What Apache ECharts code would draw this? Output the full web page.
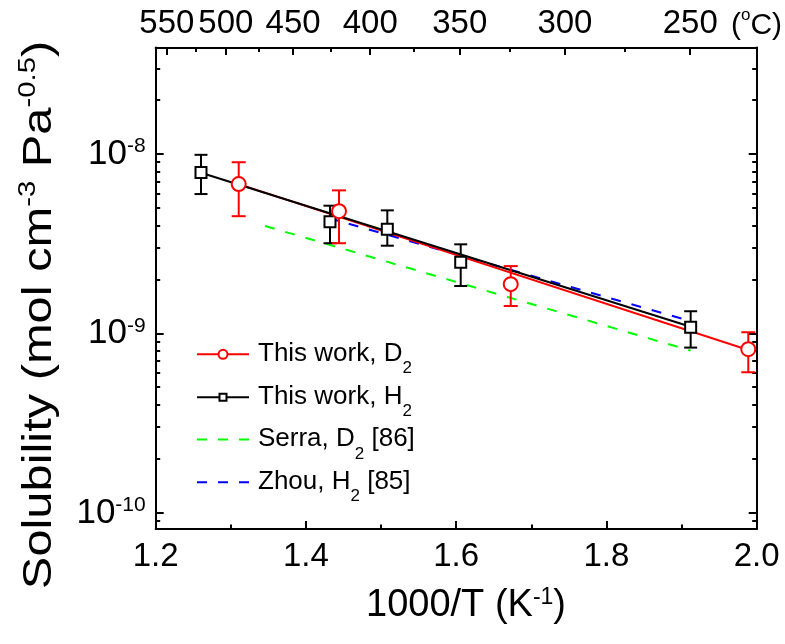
<!DOCTYPE html>
<html>
<head>
<meta charset="utf-8">
<script src="https://cdn.jsdelivr.net/npm/echarts@6/dist/echarts.min.js"></script>
<style>
  html, body { margin: 0; padding: 0; background: #fff; }
  #chart { width: 785px; height: 644px; }
</style>
</head>
<body>
<div id="chart"></div>
<script>
// Measured hydrogen-isotope solubility vs inverse temperature.
// x: 1000/T (K^-1), y: solubility (mol cm^-3 Pa^-0.5)

// This work, D2 (circles) with error bar bounds
const d2InvT  = [1.3105, 1.444, 1.6726, 1.9888];
const d2Sol   = [6.8e-9, 4.8e-9, 1.88e-9, 8.15e-10];
const d2Low   = [4.5e-9, 3.18e-9, 1.42e-9, 6.06e-10];
const d2High  = [9.0e-9, 6.27e-9, 2.37e-9, 1.013e-9];

// This work, H2 (squares) with error bar bounds
const h2InvT  = [1.2603, 1.432, 1.5083, 1.606, 1.9121];
const h2Sol   = [7.9e-9, 4.19e-9, 3.8e-9, 2.49e-9, 1.08e-9];
const h2Low   = [5.98e-9, 3.18e-9, 3.08e-9, 1.835e-9, 8.32e-10];
const h2High  = [9.9e-9, 5.15e-9, 4.85e-9, 3.135e-9, 1.327e-9];

// Arrhenius fit lines (end points)
const d2FitInvT = [1.3105, 1.9888];
const d2FitSol  = [6.79e-9, 8.07e-10];
const h2FitInvT = [1.2603, 1.9121];
const h2FitSol  = [7.86e-9, 1.088e-9];

// Literature correlations
const serraInvT = [1.3455, 1.9121];
const serraSol  = [3.97e-9, 8.0e-10];
const zhouInvT  = [1.43, 1.907];
const zhouSol   = [4.40e-9, 1.186e-9];

// Axis ticks
const xTickValues      = [1.2, 1.4, 1.6, 1.8, 2.0];
const xMinorTickValues = [1.3, 1.5, 1.7, 1.9];
const tempMajorC = [550, 500, 450, 400, 350, 300, 250];
const tempMinorC = [525, 475, 425, 375, 325, 275];
const yMajorTicks = [1e-10, 1e-9, 1e-8];
const yMin = 8.09e-11, yMax = 3.93e-8;

const legendNames = [
  ['This work, D', '2', ''],
  ['This work, H', '2', ''],
  ['Serra, D', '2', ' [86]'],
  ['Zhou, H', '2', ' [85]']
];

const FONT = "'Liberation Sans', Arial, sans-serif";
const BLACK = '#000000', RED = '#ff0000', GREEN = '#00ff00', BLUE = '#0000ff';

const yMinorTicks = [];
for (let e = -11; e <= -8; e++) {
  for (let m = 2; m <= 9; m++) yMinorTicks.push(m * Math.pow(10, e));
}
const invT = c => 1000 / (c + 273.15);

const pairs = (xs, ys) => xs.map((x, i) => [x, ys[i]]);
const bars = (xs, lo, hi) => xs.map((x, i) => [x, lo[i], hi[i]]);

function errorBars(color, capHalf) {
  return function (params, api) {
    const x = api.value(0);
    const lo = api.coord([x, api.value(1)]);
    const hi = api.coord([x, api.value(2)]);
    const style = { stroke: color, lineWidth: 2, fill: null };
    return {
      type: 'group',
      children: [
        { type: 'line', shape: { x1: lo[0], y1: lo[1], x2: hi[0], y2: hi[1] }, style },
        { type: 'line', shape: { x1: lo[0] - capHalf, y1: lo[1], x2: lo[0] + capHalf, y2: lo[1] }, style },
        { type: 'line', shape: { x1: hi[0] - capHalf, y1: hi[1], x2: hi[0] + capHalf, y2: hi[1] }, style }
      ]
    };
  };
}

const axisLine = { show: true, onZero: false, lineStyle: { color: BLACK, width: 2 } };
const noLine = { show: false };
const tickStyle = { color: BLACK, width: 2 };

function xAxisDef(position, ticks, len, labels) {
  return {
    type: 'value', position, min: 1.2, max: 2.0,
    axisLine: labels ? axisLine : noLine,
    axisTick: { show: true, inside: true, length: len, lineStyle: tickStyle, customValues: ticks },
    axisLabel: labels || { show: false },
    splitLine: { show: false }
  };
}
function yAxisDef(position, ticks, len, withLine, labels) {
  return {
    type: 'log', logBase: 10, position, min: yMin, max: yMax,
    axisLine: withLine ? axisLine : noLine,
    axisTick: { show: true, inside: true, length: len, lineStyle: tickStyle, customValues: ticks },
    axisLabel: labels || { show: false },
    splitLine: { show: false }
  };
}

const tickFont = { fontFamily: FONT, fontSize: 33, color: BLACK, lineHeight: 33 };

const option = {
  animation: false,
  backgroundColor: '#fff',
  grid: { left: 155.7, right: 28.3, top: 47.5, bottom: 115 },
  xAxis: [
    xAxisDef('bottom', xTickValues, 8, Object.assign({
      customValues: xTickValues, margin: 11, formatter: v => v.toFixed(1)
    }, tickFont)),
    xAxisDef('bottom', xMinorTickValues, 4.5, null),
    xAxisDef('top', tempMajorC.map(invT), 7.5, Object.assign({
      customValues: tempMajorC.map(invT), margin: 7,
      formatter: v => String(Math.round(1000 / v - 273.15))
    }, tickFont)),
    xAxisDef('top', tempMinorC.map(invT), 4.5, null)
  ],
  yAxis: [
    yAxisDef('left', yMajorTicks, 8, true, {
      customValues: yMajorTicks, margin: 10,
      formatter: v => '{a|10}{b|' + Math.round(Math.log10(v)) + '}',
      rich: {
        a: { fontFamily: FONT, fontSize: 35, lineHeight: 36, verticalAlign: 'bottom', color: BLACK },
        b: { fontFamily: FONT, fontSize: 21, lineHeight: 22, verticalAlign: 'top', padding: [0, 0, 22, 0], color: BLACK }
      }
    }),
    yAxisDef('left', yMinorTicks, 4.5, false, null),
    yAxisDef('right', yMajorTicks, 8, true, null),
    yAxisDef('right', yMinorTicks, 4.5, false, null)
  ],
  series: [
    {
      name: 'Serra, D2 [86]', type: 'line', xAxisIndex: 0, yAxisIndex: 0,
      data: pairs(serraInvT, serraSol), symbol: 'none',
      lineStyle: { color: GREEN, width: 2, type: [10, 11] }, z: 2
    },
    {
      name: 'Zhou, H2 [85]', type: 'line', xAxisIndex: 0, yAxisIndex: 0,
      data: pairs(zhouInvT, zhouSol), symbol: 'none',
      lineStyle: { color: BLUE, width: 2, type: [10, 11] }, z: 2
    },
    {
      name: 'This work, D2 fit', type: 'line', xAxisIndex: 0, yAxisIndex: 0,
      data: pairs(d2FitInvT, d2FitSol), symbol: 'none',
      lineStyle: { color: RED, width: 2 }, z: 3
    },
    {
      name: 'This work, H2 fit', type: 'line', xAxisIndex: 0, yAxisIndex: 0,
      data: pairs(h2FitInvT, h2FitSol), symbol: 'none',
      lineStyle: { color: BLACK, width: 2 }, z: 4
    },
    {
      name: 'H2 error', type: 'custom', xAxisIndex: 0, yAxisIndex: 0,
      data: bars(h2InvT, h2Low, h2High), encode: { x: 0, y: [1, 2] },
      renderItem: errorBars(BLACK, 6.5), z: 5
    },
    {
      name: 'D2 error', type: 'custom', xAxisIndex: 0, yAxisIndex: 0,
      data: bars(d2InvT, d2Low, d2High), encode: { x: 0, y: [1, 2] },
      renderItem: errorBars(RED, 7), z: 6
    },
    {
      name: 'This work, H2', type: 'scatter', xAxisIndex: 0, yAxisIndex: 0,
      data: pairs(h2InvT, h2Sol), symbol: 'rect', symbolSize: 11,
      itemStyle: { color: '#fff', borderColor: BLACK, borderWidth: 2, opacity: 1 }, z: 7
    },
    {
      name: 'This work, D2', type: 'scatter', xAxisIndex: 0, yAxisIndex: 0,
      data: pairs(d2InvT, d2Sol), symbol: 'circle', symbolSize: 14,
      itemStyle: { color: '#fff', borderColor: RED, borderWidth: 2, opacity: 1 }, z: 8
    }
  ],
  graphic: []
};

// Legend block
const legendRows = [354.3, 397.3, 439.5, 482.3];
const legendColors = [RED, BLACK, GREEN, BLUE];
const legendDash = [null, null, [10, 11], [10, 11]];
const legendRich = {
  a: { fontFamily: FONT, fontSize: 26, lineHeight: 30, verticalAlign: 'top', fill: BLACK },
  s: { fontFamily: FONT, fontSize: 17, lineHeight: 17, verticalAlign: 'top', padding: [19.5, 0, 0, 0], fill: BLACK }
};
legendRows.forEach((y, i) => {
  option.graphic.push({
    type: 'line', shape: { x1: 197, y1: y, x2: 249, y2: y },
    style: { stroke: legendColors[i], lineWidth: 2, lineDash: legendDash[i] }, z: 10
  });
  if (i === 0) {
    option.graphic.push({
      type: 'circle', shape: { cx: 223, cy: y, r: 4.5 },
      style: { fill: '#fff', stroke: RED, lineWidth: 2 }, z: 11
    });
  } else if (i === 1) {
    option.graphic.push({
      type: 'rect', shape: { x: 219.5, y: y - 3.5, width: 7, height: 7 },
      style: { fill: '#fff', stroke: BLACK, lineWidth: 2 }, z: 11
    });
  }
  const [main, sub, tail] = legendNames[i];
  option.graphic.push({
    type: 'text', x: 258, y: y + 1.5, z: 11,
    style: {
      text: '{a|' + main + '}{s|' + sub + '}' + (tail ? '{a|' + tail + '}' : ''),
      rich: legendRich, align: 'left', verticalAlign: 'middle'
    }
  });
});

// Temperature unit on the top axis
option.graphic.push({
  type: 'text', x: 731, y: 24, z: 11,
  style: {
    text: '{a|(}{s|o}{a|C)}', align: 'left', verticalAlign: 'middle',
    rich: {
      a: { fontFamily: FONT, fontSize: 30, lineHeight: 34, verticalAlign: 'bottom', fill: BLACK },
      s: { fontFamily: FONT, fontSize: 17, lineHeight: 17, verticalAlign: 'top', padding: [0, 0, 17, 0], fill: BLACK }
    }
  }
});

// Axis titles
option.graphic.push({
  type: 'text', x: 466, y: 604, z: 11,
  style: {
    text: '{a|1000/T (K}{s|-1}{a|)}', align: 'center', verticalAlign: 'middle',
    rich: {
      a: { fontFamily: FONT, fontSize: 38, lineHeight: 42, verticalAlign: 'bottom', fill: BLACK },
      s: { fontFamily: FONT, fontSize: 23, lineHeight: 23, verticalAlign: 'top', padding: [3, 0, 0, 0], fill: BLACK }
    }
  }
});
option.graphic.push({
  type: 'text', x: 38, y: 315, rotation: Math.PI / 2, scaleX: 1.22, z: 11,
  style: {
    text: '{a|Solubility (mol cm}{s|-3}{a| Pa}{s|-0.5}{a|)}', align: 'center', verticalAlign: 'middle',
    rich: {
      a: { fontFamily: FONT, fontSize: 40, lineHeight: 44, verticalAlign: 'bottom', fill: BLACK },
      s: { fontFamily: FONT, fontSize: 24, lineHeight: 24, verticalAlign: 'top', padding: [0, 0, 22, 0], fill: BLACK }
    }
  }
});

const chart = echarts.init(document.getElementById('chart'), null, { renderer: 'canvas' });
chart.setOption(option);
</script>
</body>
</html>
